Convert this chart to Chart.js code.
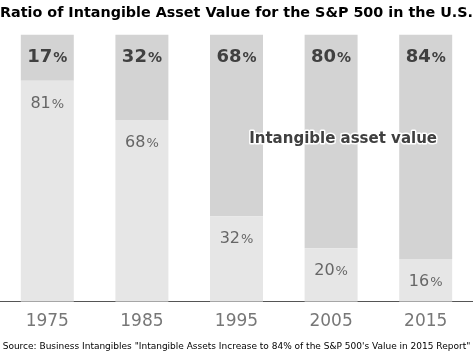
<!DOCTYPE html>
<html>
<head>
<meta charset="utf-8">
<script src="https://cdn.jsdelivr.net/npm/chart.js@4.4.1/dist/chart.umd.min.js"></script>
<style>
  html, body { margin: 0; padding: 0; background: #fff; }
  #wrap { width: 473px; height: 354px; }
</style>
</head>
<body>
<div id="wrap"><canvas id="myChart"></canvas></div>
<script>
const years = ["1975", "1985", "1995", "2005", "2015"];
const intangible = [17, 32, 68, 80, 84];
const tangible = [81, 68, 32, 20, 16];

// bars are drawn as shares of each year's total
const total = years.map((y, i) => intangible[i] + tangible[i]);
const tangibleShare = tangible.map((v, i) => v / total[i] * 100);
const intangibleShare = intangible.map((v, i) => v / total[i] * 100);

const FONT = "'DejaVu Sans', Verdana, sans-serif";

const labelPlugin = {
  id: "barLabels",
  afterDatasetsDraw(chart) {
    const ctx = chart.ctx;
    const x = chart.scales.x;
    const y = chart.scales.y;
    const lower = chart.getDatasetMeta(0);
    const upper = chart.getDatasetMeta(1);
    ctx.save();
    ctx.textBaseline = "alphabetic";

    function pct(txt, cx, baseY, big, small, weight, color) {
      ctx.fillStyle = color;
      ctx.font = weight + " " + big + "px " + FONT;
      const w1 = ctx.measureText(txt).width;
      ctx.font = weight + " " + small + "px " + FONT;
      const w2 = ctx.measureText("%").width;
      const start = cx - (w1 + w2 + 1) / 2;
      ctx.textAlign = "left";
      ctx.font = weight + " " + big + "px " + FONT;
      ctx.fillText(txt, start, baseY);
      ctx.font = weight + " " + small + "px " + FONT;
      ctx.fillText("%", start + w1 + 1, baseY);
    }

    upper.data.forEach((bar, i) => {
      pct(String(intangible[i]), bar.x, bar.y + 28, 18, 14, "bold", "#404040");
    });
    lower.data.forEach((bar, i) => {
      pct(String(tangible[i]), bar.x, bar.y + 27, 16, 13, "normal", "#666666");
    });

    // series note
    const nx = x.getPixelForValue(3) + 12;
    const ny = y.getPixelForValue(61);
    ctx.font = "bold 15px " + FONT;
    ctx.textAlign = "center";
    ctx.textBaseline = "middle";
    ctx.lineWidth = 3;
    ctx.strokeStyle = "#ffffff";
    ctx.lineJoin = "round";
    ctx.strokeText("Intangible asset value", nx, ny);
    ctx.fillStyle = "#404040";
    ctx.fillText("Intangible asset value", nx, ny);
    ctx.restore();
  }
};

const ctx = document.getElementById("myChart").getContext("2d");
new Chart(ctx, {
  type: "bar",
  data: {
    labels: years,
    datasets: [
      {
        label: "Tangible asset value",
        data: tangibleShare,
        backgroundColor: "#e6e6e6",
        barPercentage: 0.56,
        categoryPercentage: 1
      },
      {
        label: "Intangible asset value",
        data: intangibleShare,
        backgroundColor: "#d3d3d3",
        barPercentage: 0.56,
        categoryPercentage: 1
      }
    ]
  },
  options: {
    responsive: true,
    maintainAspectRatio: false,
    animation: false,
    layout: { padding: 0 },
    plugins: {
      legend: { display: false },
      tooltip: { enabled: false },
      title: {
        display: true,
        text: "Ratio of Intangible Asset Value for the S&P 500 in the U.S.",
        align: "start",
        color: "#000",
        font: { family: FONT, size: 14.5, weight: "bold" },
        padding: { top: 5, bottom: 12 }
      },
      subtitle: {
        display: true,
        position: "bottom",
        text: "Source: Business Intangibles \"Intangible Assets Increase to 84% of the S&P 500's Value in 2015 Report\"",
        color: "#000",
        font: { family: FONT, size: 9 },
        padding: { top: 7, bottom: 2 }
      }
    },
    scales: {
      x: {
        stacked: true,
        grid: { display: false },
        border: { color: "#555", width: 1 },
        ticks: { color: "#777", font: { family: FONT, size: 17 }, padding: 2 }
      },
      y: {
        stacked: true,
        display: false,
        min: 0,
        max: 100
      }
    }
  },
  plugins: [labelPlugin]
});
</script>
</body>
</html>
